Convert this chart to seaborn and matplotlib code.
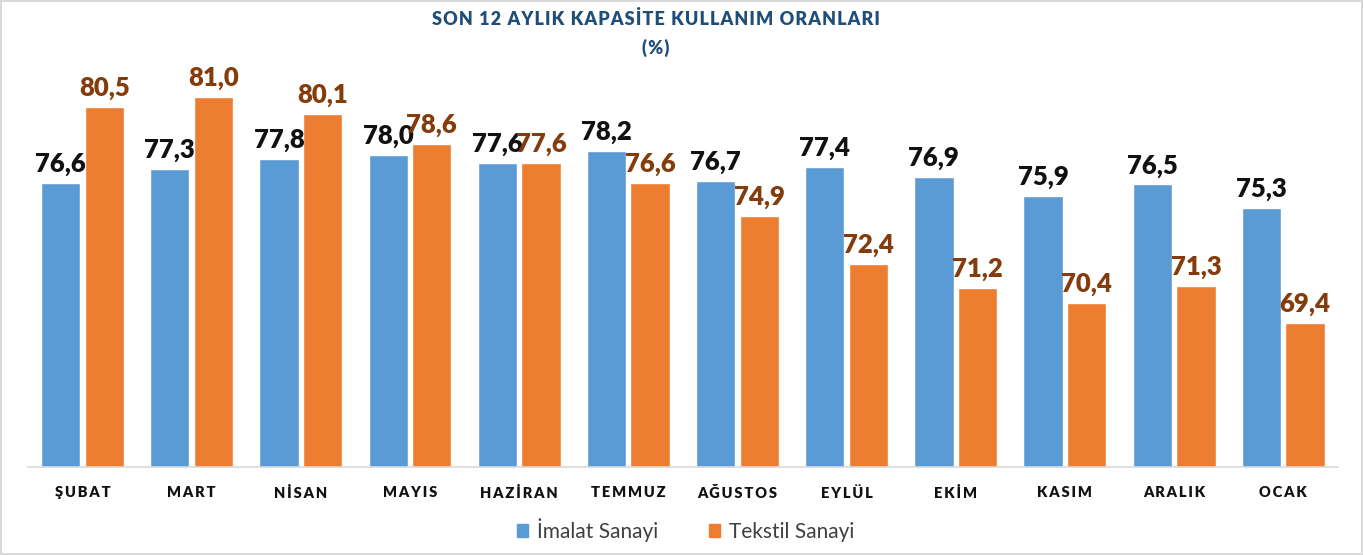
import matplotlib
matplotlib.use("Agg")
import matplotlib.pyplot as plt
import seaborn as sns
import pandas as pd

months = ["ŞUBAT", "MART", "NİSAN", "MAYIS", "HAZİRAN", "TEMMUZ",
          "AĞUSTOS", "EYLÜL", "EKİM", "KASIM", "ARALIK", "OCAK"]
imalat = [76.6, 77.3, 77.8, 78.0, 77.6, 78.2, 76.7, 77.4, 76.9, 75.9, 76.5, 75.3]
tekstil = [80.5, 81.0, 80.1, 78.6, 77.6, 76.6, 74.9, 72.4, 71.2, 70.4, 71.3, 69.4]
series = ["İmalat Sanayi", "Tekstil Sanayi"]
colors = ["#5B9BD5", "#ED7D31"]
label_colors = ["#111111", "#843C0C"]

df = pd.DataFrame({
    "Ay": months * 2,
    "Seri": [series[0]] * len(months) + [series[1]] * len(months),
    "Oran": imalat + tekstil,
})

sns.set_theme(style="white")
plt.rcParams["font.family"] = ["Lato", "DejaVu Sans"]

fig = plt.figure(figsize=(13.63, 5.55), dpi=100)
fig.patch.set_edgecolor("#D9D9D9")
fig.patch.set_linewidth(1.5)
ax = fig.add_axes([0.0205, 0.1586, 0.961, 0.7514])

sns.barplot(data=df, x="Ay", y="Oran", hue="Seri", palette=colors,
            width=0.8, gap=0.1, saturation=1, ax=ax, legend=False)

for cont, vals, c in zip(ax.containers, [imalat, tekstil], label_colors):
    ax.bar_label(cont, labels=[f"{v:.1f}".replace(".", ",") for v in vals],
                 padding=5, fontsize=18.5, fontweight="heavy", color=c)

ax.set_ylim(62, 62 + 417 / 19.48)
ax.set_xlim(-0.5, len(months) - 0.5)
ax.set_yticks([])
ax.set_xlabel("")
ax.set_ylabel("")
ax.set_xticks(range(len(months)))
ax.set_xticklabels(["\u2009".join(m) for m in months], fontsize=10.5,
                   fontweight="heavy", color="#111111")
ax.tick_params(axis="x", length=0, pad=14)
for s in ["top", "left", "right"]:
    ax.spines[s].set_visible(False)
ax.spines["bottom"].set_color("#D9D9D9")
ax.spines["bottom"].set_linewidth(1.2)

title_kw = dict(ha="center", va="center", fontsize=13, fontweight="heavy",
                color="#1F4E79")
fig.text(0.481, 0.966, "\u200a".join("SON 12 AYLIK KAPASİTE KULLANIM ORANLARI"),
         **title_kw)
fig.text(0.481, 0.913, "\u200a".join("(%)"), **title_kw)

handles = [plt.Rectangle((0, 0), 1, 1, color=c) for c in colors]
fig.legend(handles, series, loc="center", bbox_to_anchor=(0.503, 0.045), ncol=2,
           frameon=False, fontsize=15, handlelength=0.55, handleheight=0.55,
           handletextpad=0.45, columnspacing=2.4, labelcolor="#404040")

fig.savefig("out.png", dpi=100)
